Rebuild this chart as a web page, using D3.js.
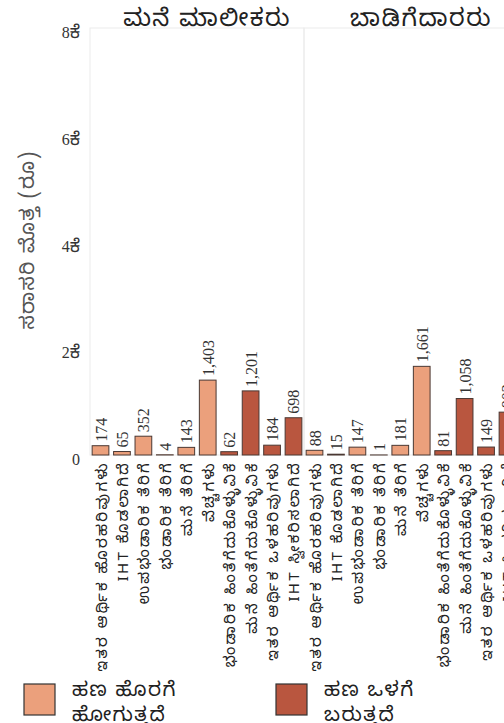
<!DOCTYPE html>
<html>
<head>
<meta charset="utf-8">
<script src="https://cdn.jsdelivr.net/npm/d3@7"></script>
<style>
  html, body { margin: 0; padding: 0; background: #fff; overflow: hidden; }
  svg { display: block; }
  .kn { font-family: "Noto Sans Kannada", "Lohit Kannada", "Tunga", "Noto Serif Kannada", serif; }
  .num { font-family: "Liberation Serif", "Times New Roman", serif; }
</style>
</head>
<body>
<svg id="chart" width="504" height="723"></svg>
<script>
// panels (facets)
const groups = ["ಮನೆ ಮಾಲೀಕರು", "ಬಾಡಿಗೆದಾರರು"];

// categories along x inside each panel
const categories = [
  "ಇತರ ಆರ್ಥಿಕ ಹೊರಹರಿವುಗಳು",
  "IHT ಕೊಡಲಾಗಿದೆ",
  "ಉಪಭಂಡಾರಿಕ ತೆರಿಗೆ",
  "ಭಂಡಾರಿಕ ತೆರಿಗೆ",
  "ಮನೆ ತೆರಿಗೆ",
  "ವೆಚ್ಚಗಳು",
  "ಭಂಡಾರಿಕ ಹಿಂತೆಗೆದುಕೊಳ್ಳುವಿಕೆ",
  "ಮನೆ ಹಿಂತೆಗೆದುಕೊಳ್ಳುವಿಕೆ",
  "ಇತರ ಆರ್ಥಿಕ ಒಳಹರಿವುಗಳು",
  "IHT ಸ್ವೀಕರಿಸಲಾಗಿದೆ"
];

// flow direction of each category (out / in)
const flowType = ["out", "out", "out", "out", "out", "out", "in", "in", "in", "in"];

// average amounts
const ownerValues = [174, 65, 352, 4, 143, 1403, 62, 1201, 184, 698];
const renterValues = [88, 15, 147, 1, 181, 1661, 81, 1058, 149, 803];

const legendLabels = { out: ["ಹಣ ಹೊರಗೆ", "ಹೋಗುತ್ತದೆ"], inn: ["ಹಣ ಒಳಗೆ", "ಬರುತ್ತದೆ"] };
const yTicks = [0, 2000, 4000, 6000, 8000];
const yTitle = "ಸರಾಸರಿ ಮೊತ್ತ (ರೂ)";

const colors = { out: "#EBA07C", in: "#B9563F" };

const svg = d3.select("#chart");
const plotTop = 28, plotBottom = 455, plotLeft = 90, panelW = 214;

const rows = [];
[ownerValues, renterValues].forEach((vals, gi) => {
  vals.forEach((v, i) => rows.push({ group: groups[gi], cat: categories[i], type: flowType[i], value: v }));
});

const x0 = d3.scaleBand().domain(groups).range([plotLeft, plotLeft + panelW * groups.length]);
const x1 = d3.scaleBand().domain(categories).range([0, panelW]).paddingInner(0.22).paddingOuter(0.1);
const y = d3.scaleLinear().domain([0, 8000]).range([plotBottom, plotTop]);

// panel frames
svg.append("g").selectAll("rect").data(groups).join("rect")
  .attr("x", d => x0(d)).attr("y", plotTop)
  .attr("width", x0.bandwidth()).attr("height", plotBottom - plotTop)
  .attr("fill", "none").attr("stroke", "#ebebeb");

// panel titles
svg.append("g").selectAll("text").data(groups).join("text")
  .attr("class", "kn")
  .attr("x", d => x0(d) + x0.bandwidth() / 2 + 10)
  .attr("y", 26)
  .attr("text-anchor", "middle")
  .attr("font-size", 24)
  .attr("letter-spacing", 1.5)
  .attr("fill", "#222")
  .text(d => d);

// y axis
const yAxis = svg.append("g")
  .attr("transform", `translate(${plotLeft - 6},0)`)
  .call(d3.axisLeft(y).tickValues(yTicks).tickSize(0).tickPadding(4).tickFormat(""));
yAxis.select(".domain").remove();
const tickText = yAxis.selectAll(".tick text")
  .attr("font-size", 16)
  .attr("fill", "#333")
  .attr("dy", "0.6em");
tickText.append("tspan").attr("class", "num").text(d => d === 0 ? "0" : d / 1000);
tickText.filter(d => d !== 0).append("tspan").attr("class", "kn")
  .attr("font-size", 18).text("ಕೆ");

svg.append("text")
  .attr("class", "kn")
  .attr("transform", "translate(34,240) rotate(-90)")
  .attr("text-anchor", "middle")
  .attr("font-size", 20)
  .attr("letter-spacing", 1.5)
  .attr("fill", "#555")
  .text(yTitle);

// bars
const bars = svg.append("g").selectAll("g").data(rows).join("g")
  .attr("transform", d => `translate(${x0(d.group) + x1(d.cat)},0)`);

bars.append("rect")
  .attr("y", d => y(d.value))
  .attr("width", x1.bandwidth())
  .attr("height", d => y(0) - y(d.value))
  .attr("fill", d => colors[d.type])
  .attr("stroke", "#4a3833")
  .attr("stroke-width", 1);

// value labels
bars.append("text")
  .attr("class", "num")
  .attr("transform", d => `translate(${x1.bandwidth() / 2 + 6},${y(d.value) - 4}) rotate(-90)`)
  .attr("font-size", 16)
  .attr("fill", "#333")
  .text(d => d3.format(",")(d.value));

// category labels
bars.append("text")
  .attr("class", "kn")
  .attr("transform", `translate(${x1.bandwidth() / 2 + 6},${plotBottom + 6}) rotate(-90)`)
  .attr("text-anchor", "end")
  .attr("font-size", 15)
  .attr("letter-spacing", 2.3)
  .attr("fill", "#222")
  .text(d => d.cat);

// legend
const legend = svg.append("g");
const legendItems = [
  { key: "out", x: 24, lines: legendLabels.out },
  { key: "in", x: 276, lines: legendLabels.inn }
];
const li = legend.selectAll("g").data(legendItems).join("g")
  .attr("transform", d => `translate(${d.x},684)`);
li.append("rect")
  .attr("width", 31).attr("height", 31)
  .attr("fill", d => colors[d.key])
  .attr("stroke", "#333").attr("stroke-width", 1.2);
li.append("text")
  .attr("class", "kn")
  .attr("font-size", 20)
  .attr("letter-spacing", 1.5)
  .attr("fill", "#222")
  .selectAll("tspan").data(d => d.lines).join("tspan")
  .attr("x", 48)
  .attr("y", (d, i) => 12 + i * 25)
  .text(d => d);
</script>
</body>
</html>
